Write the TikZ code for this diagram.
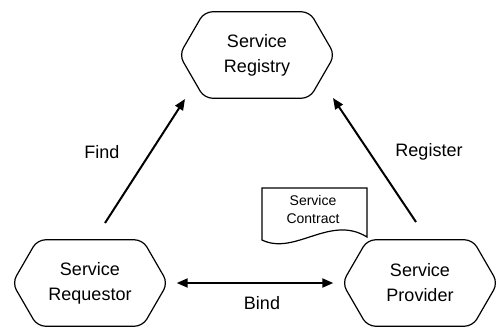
\documentclass[tikz,border=0pt]{standalone}
\usepackage{fontspec}
\setmainfont{Liberation Sans}
\usetikzlibrary{arrows.meta}
\begin{document}
\begin{tikzpicture}[x=1pt,y=-1pt,
  lbl/.style={font=\fontsize{18}{25}\selectfont, align=center, inner sep=0pt},
  small/.style={font=\fontsize{14}{18}\selectfont, align=center, inner sep=0pt},
  hexbox/.style={lbl, minimum width=155pt, minimum height=86pt},
  hexline/.style={draw=black, line width=1.2pt, rounded corners=8pt},
  arr/.style={line width=2pt, -{Triangle[length=11pt,width=9pt]}},
  barr/.style={line width=2pt, {Triangle[length=11pt,width=9pt]}-{Triangle[length=11pt,width=9pt]}}]
\useasboundingbox (0,0) rectangle (500,327);
\newcommand\hexpath[1]{\draw[hexline] (#1.north) -- ([xshift=-25pt]#1.north east) -- (#1.east) -- ([xshift=-25pt]#1.south east) -- ([xshift=25pt]#1.south west) -- (#1.west) -- ([xshift=25pt]#1.north west) -- cycle;}
\node[hexbox] (reg) at (257,55) {Service\\Registry};
\node[hexbox] (req) at (90,283) {Service\\Requestor};
\node[hexbox] (prov) at (420,283) {Service\\Provider};
\hexpath{reg}
\hexpath{req}
\hexpath{prov}
% contract document
\draw[line width=1.2pt] (262,188) -- (262,240) .. controls (295,256) and (330,214) .. (367,237) -- (367,188) -- cycle;
\node[small] (con) at (313,209) {Service\\Contract};
% arrows
\coordinate (f1) at (105,223);
\coordinate (f2) at (185,99);
\coordinate (r1) at (416,222);
\coordinate (r2) at (333,98);
\draw[arr] (f1) -- (f2);
\draw[arr] (r1) -- (r2);
\draw[barr] ([xshift=9pt]req.east) -- ([xshift=-9pt]prov.west);
\node[lbl] (find) at (102,152) {Find};
\node[lbl] (register) at (429,152) {Register};
\node[lbl] (bind) at (262,303) {Bind};
\end{tikzpicture}
\end{document}
